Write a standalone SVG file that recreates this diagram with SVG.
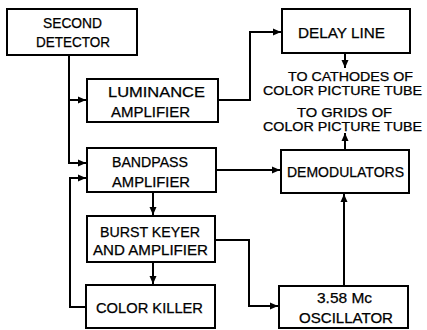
<svg xmlns="http://www.w3.org/2000/svg" width="427" height="330" viewBox="0 0 427 330">
<style>
.box{fill:#fff;stroke:#000;stroke-width:2}
.t{font-family:"Liberation Sans",Arial,sans-serif;font-size:14px;fill:#000;stroke:#000;stroke-width:0.25}
.s{font-size:12px}
.c{fill:none;stroke:#000;stroke-width:2}
</style>
<defs>
<marker id="ah" markerUnits="userSpaceOnUse" markerWidth="9" markerHeight="8" refX="8" refY="4" orient="auto">
<path d="M0,0.5 L8,4 L0,7.5 z" fill="#000"/>
</marker>
</defs>
<rect width="427" height="330" fill="#fff"/>
<g id="connectors">
<path class="c" d="M69,55 V163 H86" marker-end="url(#ah)"/>
<path class="c" d="M69,100 H86" marker-end="url(#ah)"/>
<path class="c" d="M218,100 H250 V32 H281" marker-end="url(#ah)"/>
<path class="c" d="M345,53 V68" marker-end="url(#ah)"/>
<path class="c" d="M345,150 V133" marker-end="url(#ah)"/>
<path class="c" d="M216,170 H280" marker-end="url(#ah)"/>
<path class="c" d="M153,192 V215" marker-end="url(#ah)"/>
<path class="c" d="M153,262 V284" marker-end="url(#ah)"/>
<path class="c" d="M215,240 H249 V306 H278" marker-end="url(#ah)"/>
<path class="c" d="M344,286 V194" marker-end="url(#ah)"/>
<path class="c" d="M86,307 H70 V178 H86" marker-end="url(#ah)"/>
</g>
<g id="second-detector">
<rect class="box" x="7" y="9" width="130" height="46"/>
<text class="t" x="43" y="28" textLength="59" lengthAdjust="spacingAndGlyphs">SECOND</text>
<text class="t" x="36" y="47" textLength="74" lengthAdjust="spacingAndGlyphs">DETECTOR</text>
</g>
<g id="luminance-amplifier">
<rect class="box" x="87" y="79" width="131" height="43"/>
<text class="t" x="108" y="97" textLength="97" lengthAdjust="spacingAndGlyphs">LUMINANCE</text>
<text class="t" x="111" y="117" textLength="79" lengthAdjust="spacingAndGlyphs">AMPLIFIER</text>
</g>
<g id="delay-line">
<rect class="box" x="282" y="9" width="128" height="44"/>
<text class="t" x="298" y="38" textLength="87" lengthAdjust="spacingAndGlyphs">DELAY LINE</text>
</g>
<g id="cathodes-label">
<text class="t s" x="288" y="81" textLength="125" lengthAdjust="spacingAndGlyphs">TO CATHODES OF</text>
<text class="t s" x="263" y="95" textLength="159" lengthAdjust="spacingAndGlyphs">COLOR PICTURE TUBE</text>
</g>
<g id="grids-label">
<text class="t s" x="297" y="117" textLength="95" lengthAdjust="spacingAndGlyphs">TO GRIDS OF</text>
<text class="t s" x="263" y="131" textLength="159" lengthAdjust="spacingAndGlyphs">COLOR PICTURE TUBE</text>
</g>
<g id="bandpass-amplifier">
<rect class="box" x="87" y="148" width="129" height="44"/>
<text class="t" x="112" y="167" textLength="76" lengthAdjust="spacingAndGlyphs">BANDPASS</text>
<text class="t" x="112" y="187" textLength="78" lengthAdjust="spacingAndGlyphs">AMPLIFIER</text>
</g>
<g id="demodulators">
<rect class="box" x="281" y="150" width="128" height="43"/>
<text class="t" x="287" y="177" textLength="117" lengthAdjust="spacingAndGlyphs">DEMODULATORS</text>
</g>
<g id="burst-keyer">
<rect class="box" x="87" y="216" width="128" height="46"/>
<text class="t" x="100" y="237" textLength="100" lengthAdjust="spacingAndGlyphs">BURST KEYER</text>
<text class="t" x="93" y="255" textLength="115" lengthAdjust="spacingAndGlyphs">AND AMPLIFIER</text>
</g>
<g id="color-killer">
<rect class="box" x="86" y="285" width="129" height="43"/>
<text class="t" x="96" y="313" textLength="107" lengthAdjust="spacingAndGlyphs">COLOR KILLER</text>
</g>
<g id="oscillator">
<rect class="box" x="279" y="286" width="129" height="42"/>
<text class="t" x="317" y="303" textLength="55" lengthAdjust="spacingAndGlyphs">3.58 Mc</text>
<text class="t" x="299" y="323" textLength="94" lengthAdjust="spacingAndGlyphs">OSCILLATOR</text>
</g>
</svg>
